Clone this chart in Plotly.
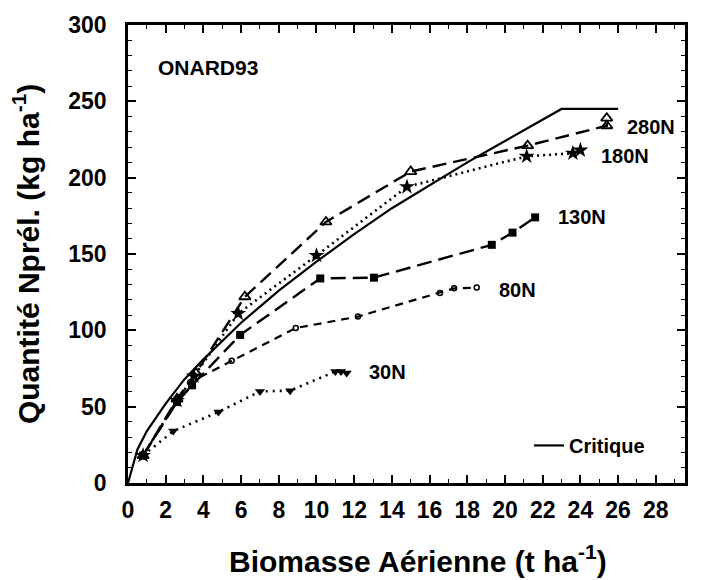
import plotly.graph_objects as go

# Aerial biomass (t/ha) and plant N uptake (kg/ha) per nitrogen rate, site ONARD93
x_280 = [0.8, 2.6, 3.6, 6.2, 10.5, 15.0, 21.2, 25.4, 25.4]
y_280 = [18, 55, 72, 122, 171, 204, 221, 234, 239]

x_180 = [0.8, 2.6, 3.5, 5.85, 10.0, 14.8, 21.15, 23.6, 24.0]
y_180 = [18, 54, 70, 111, 149, 194, 214, 216, 218]

x_130 = [0.8, 2.6, 3.4, 5.95, 10.2, 13.05, 19.3, 20.4, 21.6]
y_130 = [18, 53, 64, 97, 134, 134.5, 156, 164, 174]

x_80 = [0.8, 2.7, 3.3, 5.5, 8.9, 12.2, 16.55, 17.3, 18.5]
y_80 = [18, 56, 66, 80, 101.5, 109, 124.5, 127.5, 128]

x_30 = [0.8, 2.4, 4.8, 7.0, 8.6, 11.0, 11.3, 11.6]
y_30 = [18, 34, 46.5, 60, 60.5, 73, 73, 72]

# Critical N uptake curve
x_crit = [0, 0.5, 1, 2, 3, 4, 6, 8, 10, 12, 14, 16, 18, 20, 23, 26]
y_crit = [0, 22, 34, 52, 68, 81, 105, 126, 145, 163, 180, 195, 210, 224, 245, 245]

# Curve labels
lab_text = ["280N", "180N", "130N", "80N", "30N"]
lab_x = [26.35, 25.0, 22.7, 19.55, 12.66]
lab_y = [233, 214, 174.5, 126.5, 73]

FONT = "Liberation Sans, Arial, sans-serif"

fig = go.Figure()

fig.add_trace(go.Scatter(
    x=x_crit, y=y_crit, mode="lines", name="Critique",
    line=dict(color="black", width=2.2), showlegend=True))

fig.add_trace(go.Scatter(
    x=x_280, y=y_280, mode="lines+markers", showlegend=False,
    line=dict(color="black", width=2.4, dash="14px,7px"),
    marker=dict(symbol="triangle-up-open", size=10, color="black",
                line=dict(width=1.8, color="black"))))

fig.add_trace(go.Scatter(
    x=x_180, y=y_180, mode="lines+markers", showlegend=False,
    line=dict(color="black", width=2.6, dash="2px,4px"),
    marker=dict(symbol="star", size=12, color="black",
                line=dict(width=0))))

fig.add_trace(go.Scatter(
    x=x_80, y=y_80, mode="lines+markers", showlegend=False,
    line=dict(color="black", width=2.2, dash="8px,6px"),
    marker=dict(symbol="circle-open", size=5, color="black",
                line=dict(width=1.5, color="black"))))

fig.add_trace(go.Scatter(
    x=x_30, y=y_30, mode="lines+markers", showlegend=False,
    line=dict(color="black", width=2.6, dash="2px,5px"),
    marker=dict(symbol="triangle-down", size=9, color="black",
                line=dict(width=0))))

fig.add_trace(go.Scatter(
    x=x_130, y=y_130, mode="lines+markers", showlegend=False,
    line=dict(color="black", width=2.4, dash="15px,7px"),
    marker=dict(symbol="square", size=8, color="black",
                line=dict(width=0))))

for t, lx, ly in zip(lab_text, lab_x, lab_y):
    fig.add_annotation(x=lx, y=ly, text=t, showarrow=False,
                       xanchor="left", yanchor="middle",
                       font=dict(family=FONT, size=20, color="black", weight="bold"))

fig.add_annotation(x=1.5, y=272, text="ONARD93", showarrow=False,
                   xanchor="left", yanchor="middle",
                   font=dict(family=FONT, size=21, color="black", weight="bold"))

# Axis titles
fig.add_annotation(xref="paper", yref="paper", x=0.52, y=-0.165,
                   text="Biomasse Aérienne (t ha<sup>-1</sup>)", showarrow=False,
                   xanchor="center", yanchor="middle",
                   font=dict(family=FONT, size=30, color="black", weight="bold"))
fig.add_annotation(xref="paper", yref="paper", x=-0.183, y=0.5,
                   text="Quantité Nprél. (kg ha<sup>-1</sup>)", showarrow=False,
                   textangle=-90, xanchor="center", yanchor="middle",
                   font=dict(family=FONT, size=30, color="black", weight="bold"))

axis_common = dict(
    showline=True, linecolor="black", linewidth=2.5, mirror="ticks",
    ticks="inside", ticklen=8, tickwidth=1.5, tickcolor="black",
    showgrid=False, zeroline=False,
    tickfont=dict(family=FONT, size=23, color="black", weight="bold"),
)

fig.update_xaxes(range=[0, 29.55], dtick=2, tick0=0,
                 minor=dict(dtick=1, ticks="inside", ticklen=4, tickwidth=1.2,
                            tickcolor="black", showgrid=False),
                 ticklabelstandoff=5, **axis_common)
fig.update_yaxes(range=[0, 300], dtick=50, tick0=0,
                 minor=dict(dtick=10, ticks="inside", ticklen=4, tickwidth=1.2,
                            tickcolor="black", showgrid=False),
                 ticklabelstandoff=14, **axis_common)

fig.update_layout(
    width=701, height=580,
    margin=dict(l=128, r=16, t=19, b=97),
    paper_bgcolor="white", plot_bgcolor="white",
    showlegend=True,
    legend=dict(x=0.72, y=0.082, xanchor="left", yanchor="middle",
                bgcolor="rgba(0,0,0,0)", borderwidth=0,
                font=dict(family=FONT, size=20, color="black", weight="bold"),
                itemwidth=30),
)

fig.write_html("out.html")
